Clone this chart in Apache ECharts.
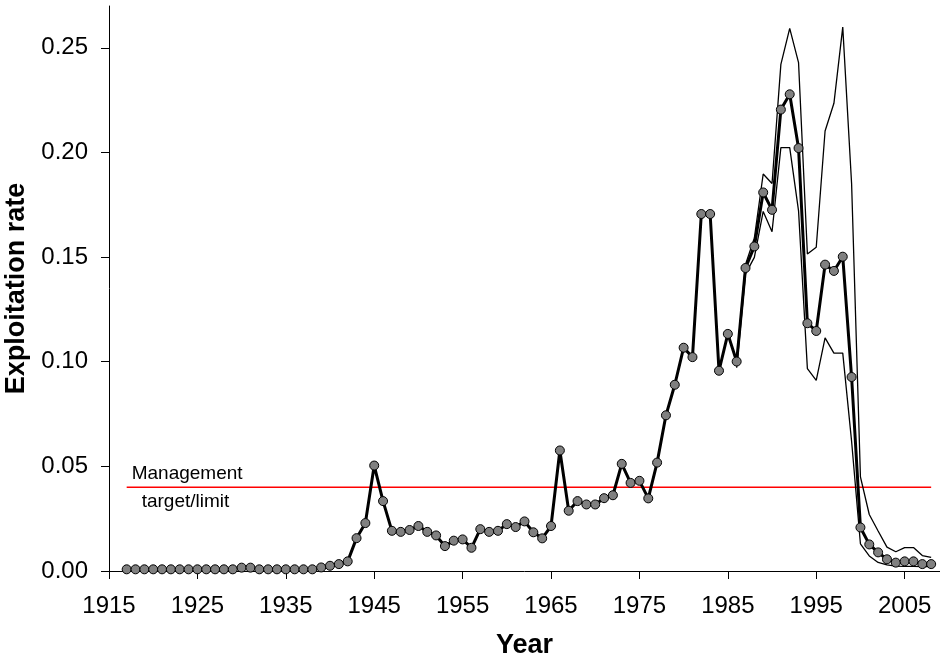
<!DOCTYPE html>
<html>
<head>
<meta charset="utf-8">
<script src="https://cdn.jsdelivr.net/npm/echarts@6.0.0/dist/echarts.min.js"></script>
<style>
html,body{margin:0;padding:0;background:#fff;}
#chart{width:940px;height:660px;}
</style>
</head>
<body>
<div id="chart"></div>
<script>
// ---- data ----
const firstYear = 1917;
const rate = [
  0.0008,0.0008,0.0008,0.0008,0.0008,0.0008,0.0008,0.0008,0.0008,0.0008,0.0008,0.0008,0.0008, // 1917-1929
  0.0016,0.0016, // 1930-1931
  0.0008,0.0008,0.0008,0.0008,0.0008,0.0008,0.0008, // 1932-1938
  0.0017,0.0025,0.0033,0.0046,0.0157,0.0229,0.0504,0.0334,0.0192,0.0187, // 1939-1948
  0.0196,0.0215,0.0187,0.0170,0.0119,0.0145,0.0151,0.0111,0.0200,0.0187, // 1949-1958
  0.0192,0.0224,0.0210,0.0237,0.0185,0.0156,0.0215,0.0576,0.0288,0.0334, // 1959-1968
  0.0318,0.0318,0.0348,0.0362,0.0512,0.0421,0.0431,0.0347,0.0518,0.0744, // 1969-1978
  0.0890,0.1067,0.1022,0.1706,0.1706,0.0957,0.1133,0.1001,0.1448,0.1551, // 1979-1988
  0.1809,0.1726,0.2205,0.2278,0.2021,0.1184,0.1147,0.1464,0.1434,0.1502, // 1989-1998
  0.0927,0.0208,0.0127,0.0089,0.0056,0.0040,0.0046,0.0046,0.0033,0.0033  // 1999-2008
];
const boundYears = [1986,1987,1988,1989,1990,1991,1992,1993,1994,1995,1996,1997,1998,1999,2000,2001,2002,2003,2004,2005,2006,2007,2008];
const upper = [0.1005,0.1465,0.1591,0.1897,0.1852,0.2421,0.2593,0.2429,0.1515,0.1547,0.2103,0.2235,0.2599,0.1852,0.0450,0.0270,0.0191,0.0114,0.0092,0.0112,0.0112,0.0074,0.0065];
const lower = [0.0971,0.1420,0.1499,0.1718,0.1621,0.2023,0.2023,0.1721,0.0967,0.0911,0.1114,0.1041,0.1041,0.0620,0.0130,0.0072,0.0041,0.0029,0.0023,0.0022,0.0022,0.0021,0.0021];
const targetValue = 0.04;
const targetYears = [1917, 2008];
const xTicks = [1915,1925,1935,1945,1955,1965,1975,1985,1995,2005];
const yTicks = [0.00,0.05,0.10,0.15,0.20,0.25];
const noteLines = ['Management', 'target/limit'];

// ---- build ----
const mainData = rate.map((v, i) => [firstYear + i, v]);
const upperData = boundYears.map((y, i) => [y, upper[i]]);
const lowerData = boundYears.map((y, i) => [y, lower[i]]);
const targetData = targetYears.map(y => [y, targetValue]);

const FONT = '"Liberation Sans", Arial, Helvetica, sans-serif';
const chart = echarts.init(document.getElementById('chart'), null, {renderer: 'canvas'});

chart.setOption({
  animation: false,
  backgroundColor: '#ffffff',
  grid: {left: 109, right: 0, top: 6, bottom: 89, containLabel: false, outerBoundsMode: 'none'},
  xAxis: {
    type: 'value', min: 1915, max: 2009, interval: 10,
    name: 'Year', nameLocation: 'middle', nameGap: 61,
    nameTextStyle: {fontFamily: FONT, fontSize: 27, fontWeight: 'bold', color: '#000'},
    axisLine: {onZero: false, lineStyle: {color: '#000', width: 1}},
    axisTick: {show: true, length: 8, inside: false, customValues: xTicks, lineStyle: {color: '#000'}},
    axisLabel: {customValues: xTicks, fontFamily: FONT, fontSize: 24, color: '#000', margin: 23,
      formatter: v => String(v)},
    splitLine: {show: false}
  },
  yAxis: {
    type: 'value', min: 0, max: 0.27, interval: 0.05,
    name: 'Exploitation rate', nameLocation: 'middle', nameGap: 63,
    nameTextStyle: {fontFamily: FONT, fontSize: 27, fontWeight: 'bold', color: '#000'},
    axisLine: {show: true, onZero: false, lineStyle: {color: '#000', width: 1}},
    axisTick: {show: true, length: 8, inside: false, customValues: yTicks, lineStyle: {color: '#000'}},
    axisLabel: {customValues: yTicks, fontFamily: FONT, fontSize: 24, color: '#000', margin: 21,
      formatter: v => v.toFixed(2)},
    splitLine: {show: false}
  },
  series: [
    {type: 'line', name: 'target', data: targetData, symbol: 'none', z: 1,
      lineStyle: {color: '#ff0000', width: 1.5}, silent: true},
    {type: 'line', name: 'upper', data: upperData, symbol: 'none', z: 2,
      lineStyle: {color: '#000', width: 1.3}},
    {type: 'line', name: 'lower', data: lowerData, symbol: 'none', z: 2,
      lineStyle: {color: '#000', width: 1.3}},
    {type: 'line', name: 'rate', data: mainData, z: 3,
      symbol: 'circle', symbolSize: 9, showAllSymbol: true,
      lineStyle: {color: '#000', width: 3},
      itemStyle: {color: '#808080', borderColor: '#000', borderWidth: 1}}
  ]
});

const p = chart.convertToPixel({gridIndex: 0}, [targetYears[0], targetValue]);
chart.setOption({
  graphic: [
    {type: 'text', x: p[0] + 5, y: p[1] - 14,
      style: {text: noteLines[0], font: '19px ' + FONT, fill: '#000', verticalAlign: 'middle'}},
    {type: 'text', x: p[0] + 15, y: p[1] + 14,
      style: {text: noteLines[1], font: '19px ' + FONT, fill: '#000', verticalAlign: 'middle'}}
  ]
});
</script>
</body>
</html>
